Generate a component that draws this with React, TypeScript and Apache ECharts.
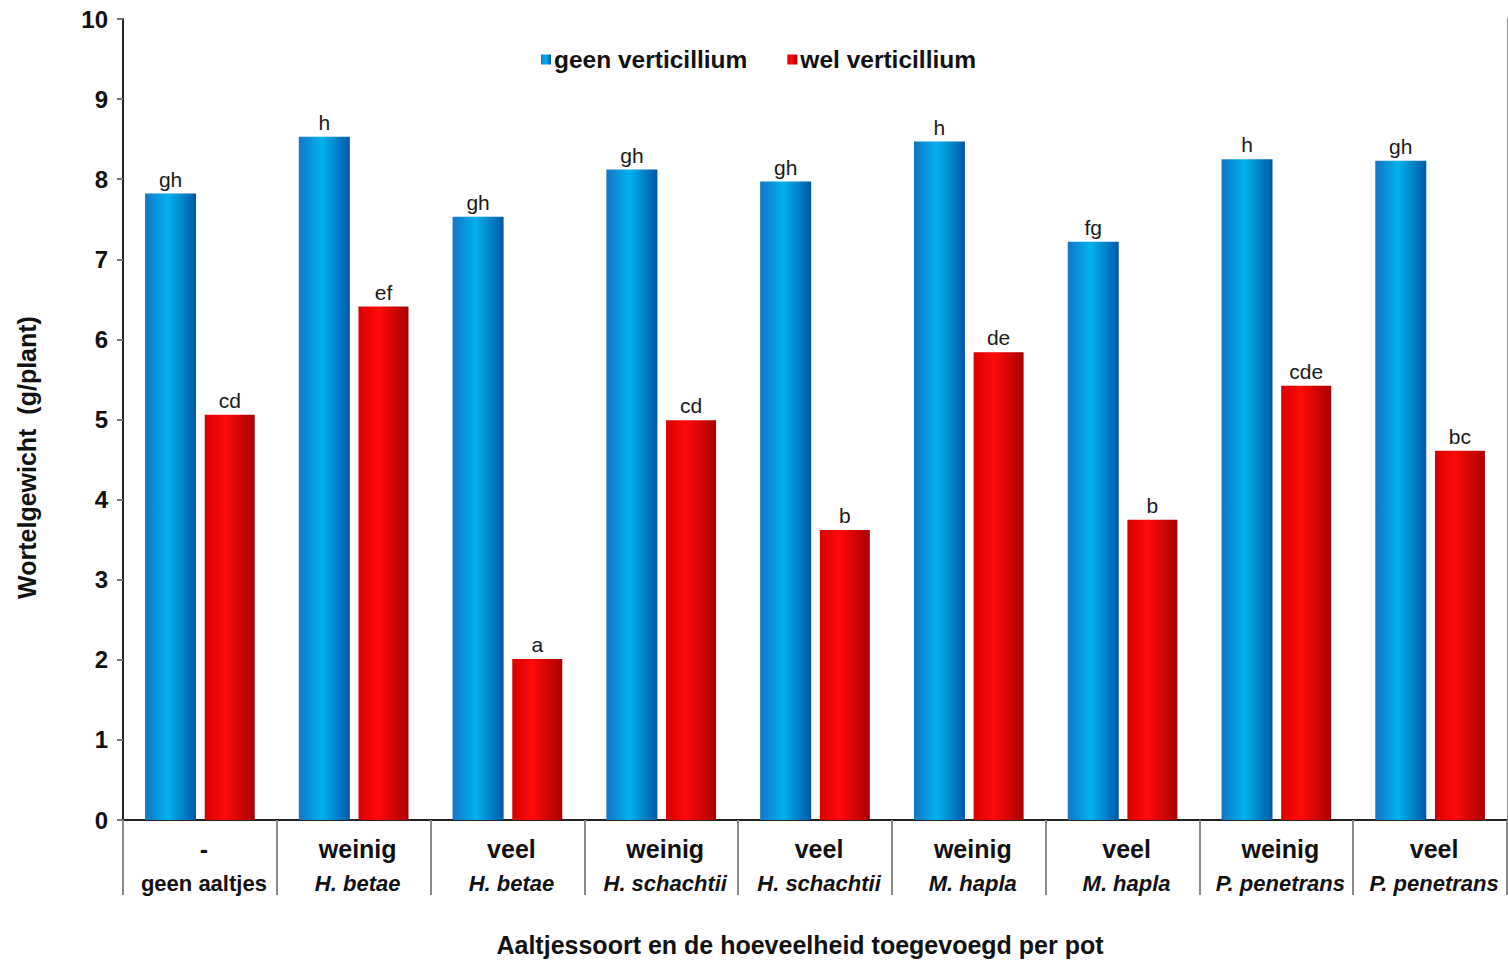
import React, { useEffect, useRef } from "react";
import * as echarts from "echarts";

const amounts = ["-", "weinig", "veel", "weinig", "veel", "weinig", "veel", "weinig", "veel"];
const species = ["geen aaltjes", "H. betae", "H. betae", "H. schachtii", "H. schachtii", "M. hapla", "M. hapla", "P. penetrans", "P. penetrans"];
const geenValues = [7.82, 8.53, 7.53, 8.12, 7.97, 8.47, 7.22, 8.25, 8.23];
const welValues = [5.06, 6.41, 2.01, 4.99, 3.62, 5.84, 3.75, 5.42, 4.61];
const geenLetters = ["gh", "h", "gh", "gh", "gh", "h", "fg", "h", "gh"];
const welLetters = ["cd", "ef", "a", "cd", "b", "de", "b", "cde", "bc"];
const yTicks = [0, 1, 2, 3, 4, 5, 6, 7, 8, 9, 10];

const FONT = "'Liberation Sans', Arial, sans-serif";

export default function App() {
  const ref = useRef<HTMLDivElement>(null);
  useEffect(() => {
    if (!ref.current) return;
    const chart = echarts.init(ref.current, null, { renderer: "svg" });
    const cats = amounts.map((_, i) => String(i));
    const blueGrad = new echarts.graphic.LinearGradient(0, 0, 1, 0, [
      { offset: 0, color: "#1474c8" },
      { offset: 0.45, color: "#00b2ee" },
      { offset: 1, color: "#0058a8" },
    ]);
    const redGrad = new echarts.graphic.LinearGradient(0, 0, 1, 0, [
      { offset: 0, color: "#d80000" },
      { offset: 0.4, color: "#ff0a0a" },
      { offset: 1, color: "#a80000" },
    ]);
    const labelStyle = {
      show: true,
      position: "top" as const,
      distance: 4,
      fontFamily: FONT,
      fontSize: 21,
      color: "#1a1a1a",
    };
    chart.setOption({
      animation: false,
      textStyle: { fontFamily: FONT },
      grid: { left: 123, right: 1, top: 19, bottom: 140, containLabel: false },
      legend: {
        left: 536,
        top: 42,
        itemWidth: 10,
        itemHeight: 10,
        itemGap: 40,
        icon: "rect",
        textStyle: { fontFamily: FONT, fontSize: 24.5, fontWeight: "bold", color: "#111", padding: [0, 0, 0, -2] },
        data: ["geen verticillium", "wel verticillium"],
      },
      xAxis: [
        {
          type: "category",
          data: cats,
          axisLine: { lineStyle: { color: "#8a8a8a", width: 2 } },
          axisTick: { show: true, alignWithLabel: false, length: 75, lineStyle: { color: "#8a8a8a", width: 2 } },
          axisLabel: {
            interval: 0,
            margin: 11,
            padding: [0, 0, 0, 8],
            formatter: (_v: string, i: number) =>
              `{a|${amounts[i]}}\n{${i === 0 ? "c" : "b"}|${species[i]}}`,
            rich: {
              a: { fontFamily: FONT, fontSize: 25, fontWeight: "bold", color: "#111", lineHeight: 35 },
              b: { fontFamily: FONT, fontSize: 22, fontWeight: "bold", fontStyle: "italic", color: "#111", lineHeight: 35 },
              c: { fontFamily: FONT, fontSize: 22, fontWeight: "bold", color: "#111", lineHeight: 35 },
            },
          },
          name: "Aaltjessoort en de hoeveelheid toegevoegd per pot",
          nameLocation: "middle",
          nameGap: 112,
          nameTextStyle: { fontFamily: FONT, fontSize: 25, fontWeight: "bold", color: "#111", padding: [0, 30, 0, 0] },
        },
        {
          type: "category",
          data: cats,
          position: "top",
          axisLine: { show: true, lineStyle: { color: "#222", width: 2 } },
          axisTick: { show: false },
          axisLabel: { show: false },
        },
      ],
      yAxis: [
        {
          type: "value",
          min: yTicks[0],
          max: yTicks[yTicks.length - 1],
          interval: 1,
          axisLine: { show: true, lineStyle: { color: "#222", width: 2 } },
          axisTick: { show: true, length: 6, lineStyle: { color: "#777", width: 2 } },
          splitLine: { show: false },
          axisLabel: { fontFamily: FONT, fontSize: 24, fontWeight: "bold", color: "#111", margin: 15 },
          name: "Wortelgewicht  (g/plant)",
          nameLocation: "middle",
          nameGap: 84,
          nameTextStyle: { fontFamily: FONT, fontSize: 25, fontWeight: "bold", color: "#111", padding: [0, 76, 0, 0] },
        },
        {
          type: "value",
          position: "right",
          min: yTicks[0],
          max: yTicks[yTicks.length - 1],
          interval: 1,
          axisLine: { show: true, lineStyle: { color: "#999", width: 1 } },
          axisTick: { show: false },
          axisLabel: { show: false },
          splitLine: { show: false },
        },
      ],
      series: [
        {
          name: "geen verticillium",
          type: "bar",
          data: geenValues,
          barWidth: 51,
          barGap: "17%",
          itemStyle: { color: blueGrad },
          label: { ...labelStyle, formatter: (p: any) => geenLetters[p.dataIndex] },
        },
        {
          name: "wel verticillium",
          type: "bar",
          data: welValues,
          barWidth: 50,
          itemStyle: { color: redGrad },
          label: { ...labelStyle, formatter: (p: any) => welLetters[p.dataIndex] },
        },
      ],
    });
    return () => chart.dispose();
  }, []);
  return (
    <div
      ref={ref}
      style={{ position: "fixed", left: 0, top: 0, width: 1508, height: 962, background: "#fff" }}
    />
  );
}
